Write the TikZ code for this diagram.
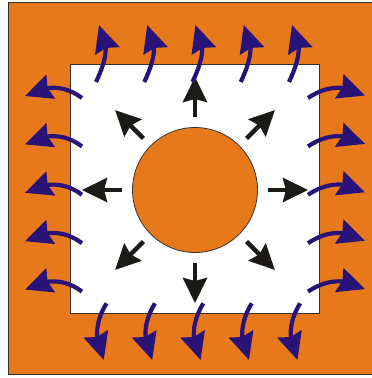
\documentclass[tikz,border=0pt]{standalone}
\usetikzlibrary{arrows.meta,bending}
\definecolor{heat}{HTML}{E8791A}
\definecolor{indigo}{HTML}{2A1378}
\definecolor{soot}{HTML}{1C1A17}

\begin{document}
\begin{tikzpicture}[x=1pt, y=1pt,
  wall/.style={draw=black!80, line width=0.8pt, inner sep=0pt},
  flow/.style={-{Stealth[length=25pt, width=24pt, inset=3pt]}, line width=4.5pt, color=soot},
  leak/.style={-{Stealth[length=27pt, width=25pt, inset=3pt]}, line width=4.2pt, color=indigo}
]
\useasboundingbox (0,0) rectangle (372,378);

% plate, cavity and source
\node[wall, fill=heat, anchor=south west, minimum width=366pt, minimum height=372pt] (plate) at (8,3) {};
\node[wall, fill=white, anchor=south west, minimum width=249pt, minimum height=249pt] (cavity) at (70,64) {};
\node[wall, circle, fill=heat, minimum size=125pt] (core) at (195,188) {};

% radial flow from the source
\foreach \a in {0,45,...,315}
  \draw[flow] ([shift={(\a:73)}]core.center) -- ([shift={(\a:113)}]core.center);

% leaks through the walls
\foreach \i in {0,...,4} {
  \draw[leak] ({96+48.25*\i},296) to[out=65, in=-58] ({99+48.25*\i},353);
  \draw[leak] ({106.5+48.4*\i},74.7) to[out=239, in=117] ({103.8+48.4*\i},18);
  \draw[leak] (308,{280-48.4*\i}) to[out=34, in=149] (365,{282.5-48.4*\i});
  \draw[leak] (82,{280-48.4*\i}) to[out=143, in=30] (25,{282-48.4*\i});
}
\end{tikzpicture}
\end{document}
